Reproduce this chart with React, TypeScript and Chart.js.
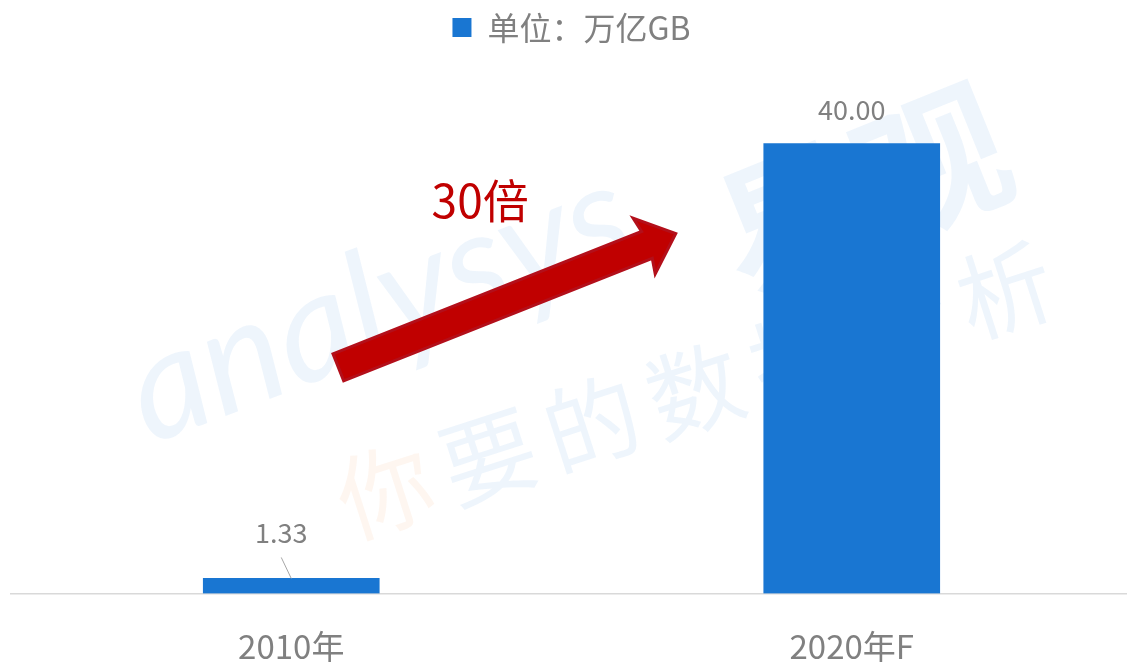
import React, { useEffect, useRef } from 'react';
import { Chart, registerables } from 'chart.js';

Chart.register(...registerables);

// ---- data ----
const categories: string[] = ['2010年', '2020年F'];
const values: number[] = [1.33, 40.0];
const seriesLabel = '单位：万亿GB';
const growthLabel = '30倍';
const watermarkBrand = 'analysys';
const watermarkName = '易观';
const watermarkSlogan: string[] = ['你', '要', '的', '数', '据', '分', '析'];

// ---- annotation anchors (in data space: category index, value) ----
const arrowFrom = { index: 0.084, value: 20.1 };
const arrowTo = { index: 0.686, value: 32.0 };
const growthTextAt = { index: 0.337, value: 34.9 };

const FONT = '"Noto Sans CJK SC", "Microsoft YaHei", sans-serif';
const BAR_COLOR = '#1976d2';
const GRAY = '#808080';
const RED = '#c00000';
const Y_MAX = 48;

const watermarkPlugin = {
  id: 'watermark',
  beforeDatasetsDraw(chart: any) {
    const ctx = chart.ctx as CanvasRenderingContext2D;
    ctx.save();
    ctx.save();
    ctx.translate(150, 445);
    ctx.rotate((-21 * Math.PI) / 180);
    ctx.font = `italic 150px Lato, "Open Sans", sans-serif`;
    ctx.fillStyle = 'rgba(26,119,210,0.075)';
    ctx.textBaseline = 'alphabetic';
    ctx.textAlign = 'left';
    ctx.fillText(watermarkBrand, 0, 0);
    ctx.restore();
    ctx.save();
    ctx.translate(862, 190);
    ctx.rotate((-22 * Math.PI) / 180);
    ctx.font = `bold 150px ${FONT}`;
    ctx.fillStyle = 'rgba(26,119,210,0.075)';
    ctx.textAlign = 'center';
    ctx.textBaseline = 'middle';
    ctx.fillText(watermarkName, 0, 0);
    ctx.restore();
    const sx = 385, sy = 490, ex = 1005, ey = 290;
    const n = watermarkSlogan.length;
    const ang = Math.atan2(ey - sy, ex - sx);
    ctx.font = `95px ${FONT}`;
    ctx.textAlign = 'center';
    ctx.textBaseline = 'middle';
    watermarkSlogan.forEach((ch, i) => {
      const t = i / (n - 1);
      ctx.save();
      ctx.translate(sx + (ex - sx) * t, sy + (ey - sy) * t);
      ctx.rotate(ang);
      ctx.fillStyle = i === 0 ? 'rgba(245,140,60,0.08)' : 'rgba(26,119,210,0.075)';
      ctx.fillText(ch, 0, 0);
      ctx.restore();
    });
    ctx.restore();
  },
};

const labelsPlugin = {
  id: 'barLabels',
  afterDatasetsDraw(chart: any) {
    const ctx = chart.ctx as CanvasRenderingContext2D;
    const meta = chart.getDatasetMeta(0);
    ctx.save();
    ctx.font = `27px ${FONT}`;
    ctx.fillStyle = GRAY;
    ctx.textAlign = 'center';
    ctx.textBaseline = 'alphabetic';
    meta.data.forEach((bar: any, i: number) => {
      const { x, y, base } = bar.getProps(['x', 'y', 'base'], true);
      const text = values[i].toFixed(2);
      if (base - y < 40) {
        ctx.strokeStyle = '#a6a6a6';
        ctx.lineWidth = 1;
        ctx.beginPath();
        ctx.moveTo(x - 10, y - 21);
        ctx.lineTo(x, y);
        ctx.stroke();
        ctx.fillText(text, x - 10, y - 35);
      } else {
        ctx.fillText(text, x, y - 23);
      }
    });
    ctx.restore();
  },
};

const arrowPlugin = {
  id: 'growthArrow',
  afterDatasetsDraw(chart: any) {
    const ctx = chart.ctx as CanvasRenderingContext2D;
    const xs = chart.scales.x;
    const ys = chart.scales.y;
    const x0 = xs.getPixelForValue(arrowFrom.index);
    const y0 = ys.getPixelForValue(arrowFrom.value);
    const x1 = xs.getPixelForValue(arrowTo.index);
    const y1 = ys.getPixelForValue(arrowTo.value);
    const len = Math.hypot(x1 - x0, y1 - y0);
    const ang = Math.atan2(y1 - y0, x1 - x0);
    const shaftHalf = 14.5;
    const headHalf = 30;
    const headLen = 31;
    ctx.save();
    ctx.translate(x0, y0);
    ctx.rotate(ang);
    ctx.beginPath();
    ctx.moveTo(0, -shaftHalf);
    ctx.lineTo(len - headLen, -shaftHalf);
    ctx.lineTo(len - headLen - 3, -headHalf);
    ctx.lineTo(len, 0);
    ctx.lineTo(len - headLen - 3, headHalf);
    ctx.lineTo(len - headLen, shaftHalf);
    ctx.lineTo(0, shaftHalf);
    ctx.closePath();
    ctx.fillStyle = RED;
    ctx.fill();
    ctx.strokeStyle = '#b30f1a';
    ctx.lineWidth = 3;
    ctx.lineJoin = 'miter';
    ctx.stroke();
    ctx.restore();

    ctx.save();
    ctx.font = `46px ${FONT}`;
    ctx.fillStyle = RED;
    ctx.textAlign = 'center';
    ctx.textBaseline = 'middle';
    ctx.fillText(growthLabel, xs.getPixelForValue(growthTextAt.index), ys.getPixelForValue(growthTextAt.value));
    ctx.restore();
  },
};

export default function App() {
  const canvasRef = useRef<HTMLCanvasElement | null>(null);

  useEffect(() => {
    if (!canvasRef.current) return;
    const chart = new Chart(canvasRef.current, {
      type: 'bar',
      data: {
        labels: categories,
        datasets: [
          {
            label: seriesLabel,
            data: values,
            backgroundColor: BAR_COLOR,
            borderWidth: 0,
            barThickness: 176,
          },
        ],
      },
      options: {
        responsive: false,
        animation: false,
        devicePixelRatio: 1,
        layout: { padding: { left: 11, right: 1, top: 1.5, bottom: 0 } },
        plugins: {
          legend: {
            display: true,
            position: 'top',
            labels: {
              boxWidth: 19,
              boxHeight: 19,
              color: GRAY,
              padding: 10,
              font: { family: FONT, size: 32 },
            },
          },
          tooltip: { enabled: false },
          title: { display: false },
        },
        scales: {
          x: {
            grid: { display: false, drawTicks: false },
            border: { display: true, color: '#d9d9d9', width: 1.5 },
            ticks: {
              color: GRAY,
              padding: 33,
              font: { family: FONT, size: 33 },
            },
          },
          y: {
            display: false,
            min: 0,
            max: Y_MAX,
          },
        },
      },
      plugins: [watermarkPlugin, labelsPlugin, arrowPlugin],
    });
    return () => chart.destroy();
  }, []);

  return (
    <div style={{ position: 'absolute', left: 0, top: 0, width: 1127, height: 662, overflow: 'hidden', background: '#fff' }}>
      <canvas ref={canvasRef} width={1133} height={699} style={{ display: 'block' }} />
    </div>
  );
}
